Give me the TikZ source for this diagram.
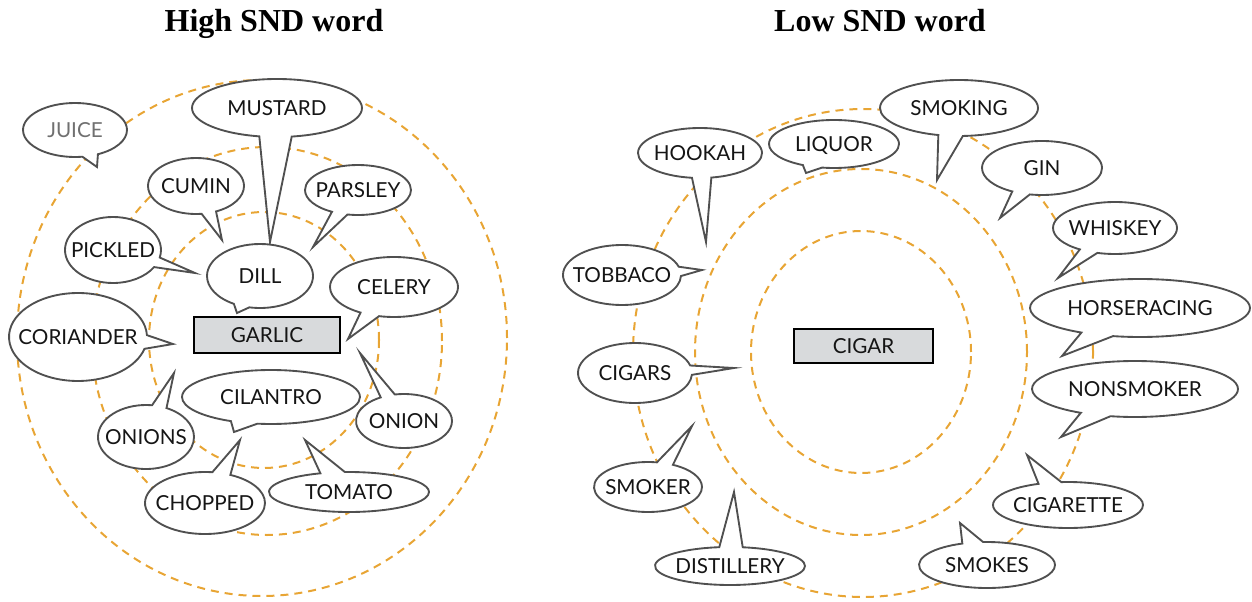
\documentclass[tikz,border=0pt]{standalone}
\usepackage{fontspec}
\setmainfont{Liberation Serif}
\newfontfamily\bubfont{Lato}
\usetikzlibrary{shapes.callouts}
\definecolor{ringc}{HTML}{E8A534}
\definecolor{bordc}{HTML}{505050}
\definecolor{boxc}{HTML}{D8DADC}
\definecolor{txtc}{HTML}{151515}
\definecolor{juicec}{HTML}{707070}
\newcommand{\bt}[1]{\makebox[0pt][c]{#1}}
\tikzset{
  ringline/.style={draw=ringc, line width=1.5pt, dash pattern=on 6pt off 4.5pt},
  bub/.style={ellipse callout, draw=bordc, fill=white, line width=1.4pt, inner sep=0pt,
    text depth=0pt, font=\bubfont\fontsize{15.5}{17}\selectfont, text=txtc, callout pointer arc=18},
  cue/.style={rectangle, draw=black, fill=boxc, line width=1.9pt, inner sep=0pt,
    font=\bubfont\fontsize{15.5}{17}\selectfont, text=txtc},
  ttl/.style={font=\bfseries\fontsize{24}{28}\selectfont, anchor=base, inner sep=0pt}
}
\begin{document}
\begin{tikzpicture}[x=0.75pt,y=-0.75pt]
\useasboundingbox (0,0) rectangle (1252,602);
% titles
\node[ttl] (t1) at (274,32) {High SND word};
\node[ttl] (t2) at (880,32) {Low SND word};
% rings left
\draw[ringline] (262,338) ellipse [x radius=183.75pt, y radius=193.5pt];
\draw[ringline] (267,341) ellipse [x radius=131.25pt, y radius=145.5pt];
\draw[ringline] (264,340) ellipse [x radius=86.25pt, y radius=96pt];
% rings right
\draw[ringline] (863,353) ellipse [x radius=172.5pt, y radius=183pt];
\draw[ringline] (861,352) ellipse [x radius=124.5pt, y radius=137.25pt];
\draw[ringline] (861,352) ellipse [x radius=82.5pt, y radius=90.75pt];
% cue boxes
\node[cue, minimum width=109.5pt, minimum height=27pt] (garlic) at (267,335) {GARLIC};
\node[cue, minimum width=104.25pt, minimum height=25.5pt] (cigar) at (863.5,346) {CIGAR};
% pointer tips left
\coordinate (pjuice) at (97,167);
\coordinate (pmust) at (270,242);
\coordinate (pcumin) at (222,240);
\coordinate (ppars) at (313,247);
\coordinate (ppick) at (195,273);
\coordinate (pdill) at (237,313);
\coordinate (pcel) at (348,339);
\coordinate (pcor) at (173,344);
\coordinate (ponions) at (174,373);
\coordinate (pcil) at (234,432);
\coordinate (ponion) at (360,353);
\coordinate (pchop) at (240,440);
\coordinate (ptom) at (305,440);
% left bubbles
\node[bub, minimum width=78pt, minimum height=40.5pt, callout absolute pointer=(pjuice), text=juicec] (juice) at (75,130) {\bt{JUICE}};
\node[bub, minimum width=127.5pt, minimum height=43.5pt, callout absolute pointer=(pmust), callout pointer arc=22] (mustard) at (277,108) {\bt{MUSTARD}};
\node[bub, minimum width=72pt, minimum height=42pt, callout absolute pointer=(pcumin)] (cumin) at (196,186) {\bt{CUMIN}};
\node[bub, minimum width=79.5pt, minimum height=37.5pt, callout absolute pointer=(ppars)] (parsley) at (358,190) {\bt{PARSLEY}};
\node[bub, minimum width=72pt, minimum height=49.5pt, callout absolute pointer=(ppick)] (pickled) at (113,250) {\bt{PICKLED}};
\node[bub, minimum width=79.5pt, minimum height=48pt, callout absolute pointer=(pdill)] (dill) at (260,276) {\bt{DILL}};
\node[bub, minimum width=96pt, minimum height=45pt, callout absolute pointer=(pcel)] (celery) at (394,287) {\bt{CELERY}};
\node[bub, minimum width=103.5pt, minimum height=66pt, callout absolute pointer=(pcor)] (coriander) at (78,337) {\bt{CORIANDER}};
\node[bub, minimum width=72pt, minimum height=48pt, callout absolute pointer=(ponions)] (onions) at (146,437) {\bt{ONIONS}};
\node[bub, minimum width=133.5pt, minimum height=40.5pt, callout absolute pointer=(pcil)] (cilantro) at (271,397) {\bt{CILANTRO}};
\node[bub, minimum width=72pt, minimum height=40.5pt, callout absolute pointer=(ponion)] (onion) at (404,421) {\bt{ONION}};
\node[bub, minimum width=90pt, minimum height=46.5pt, callout absolute pointer=(pchop)] (chopped) at (205,503) {\bt{CHOPPED}};
\node[bub, minimum width=120pt, minimum height=30pt, callout absolute pointer=(ptom)] (tomato) at (349,492) {\bt{TOMATO}};
% pointer tips right
\coordinate (phook) at (706,242);
\coordinate (pliq) at (806,173);
\coordinate (psmoking) at (937,180);
\coordinate (pgin) at (1000,218);
\coordinate (pwhis) at (1058,278);
\coordinate (ptob) at (702,270);
\coordinate (phorse) at (1062,356);
\coordinate (pcigars) at (734,368);
\coordinate (pnon) at (1061,437);
\coordinate (psmoker) at (692,426);
\coordinate (pcigt) at (1027,455);
\coordinate (pdist) at (734,492);
\coordinate (psmokes) at (960,523);
% right bubbles
\node[bub, minimum width=93pt, minimum height=37.5pt, callout absolute pointer=(phook)] (hookah) at (700,153) {\bt{HOOKAH}};
\node[bub, minimum width=97.5pt, minimum height=36pt, callout absolute pointer=(pliq)] (liquor) at (834,144) {\bt{LIQUOR}};
\node[bub, minimum width=118.5pt, minimum height=42pt, callout absolute pointer=(psmoking)] (smoking) at (959,108) {\bt{SMOKING}};
\node[bub, minimum width=90pt, minimum height=40.5pt, callout absolute pointer=(pgin)] (gin) at (1042,168) {\bt{GIN}};
\node[bub, minimum width=93pt, minimum height=39pt, callout absolute pointer=(pwhis)] (whiskey) at (1115,228) {\bt{WHISKEY}};
\node[bub, minimum width=88.5pt, minimum height=45pt, callout absolute pointer=(ptob)] (tobbaco) at (622,275) {\bt{TOBBACO}};
\node[bub, minimum width=165pt, minimum height=43.5pt, callout absolute pointer=(phorse)] (horse) at (1140,308) {\bt{HORSERACING}};
\node[bub, minimum width=85.5pt, minimum height=45pt, callout absolute pointer=(pcigars)] (cigars) at (635,373) {\bt{CIGARS}};
\node[bub, minimum width=154.5pt, minimum height=42pt, callout absolute pointer=(pnon)] (nonsmoker) at (1135,389) {\bt{NONSMOKER}};
\node[bub, minimum width=81pt, minimum height=37.5pt, callout absolute pointer=(psmoker)] (smoker) at (648,487) {\bt{SMOKER}};
\node[bub, minimum width=112.5pt, minimum height=34.5pt, callout absolute pointer=(pcigt)] (cigarette) at (1068,505) {\bt{CIGARETTE}};
\node[bub, minimum width=112.5pt, minimum height=28.5pt, callout absolute pointer=(pdist)] (distillery) at (730,566) {\bt{DISTILLERY}};
\node[bub, minimum width=102pt, minimum height=34.5pt, callout absolute pointer=(psmokes)] (smokes) at (987,565) {\bt{SMOKES}};
\end{tikzpicture}
\end{document}
